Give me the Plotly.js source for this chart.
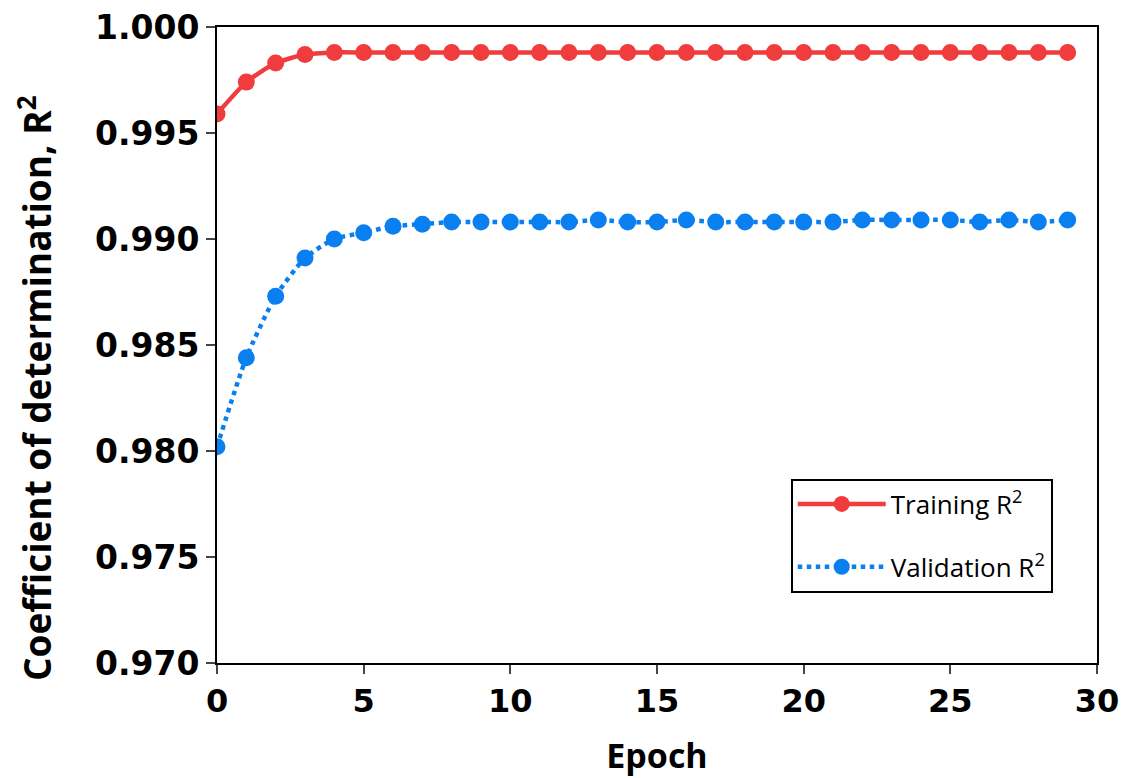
<!DOCTYPE html>
<html>
<head>
<meta charset="utf-8">
<script src="https://cdn.plot.ly/plotly-3.0.1.min.js"></script>
<style>html,body{margin:0;padding:0;background:#fff;}#chart{width:1121px;height:778px;}</style>
</head>
<body>
<div id="chart"></div>
<script>
const epochs = [0,1,2,3,4,5,6,7,8,9,10,11,12,13,14,15,16,17,18,19,20,21,22,23,24,25,26,27,28,29];
const trainingR2 = [0.9959,0.9974,0.9983,0.9987,0.9988,0.9988,0.9988,0.9988,0.9988,0.9988,
                    0.9988,0.9988,0.9988,0.9988,0.9988,0.9988,0.9988,0.9988,0.9988,0.9988,
                    0.9988,0.9988,0.9988,0.9988,0.9988,0.9988,0.9988,0.9988,0.9988,0.9988];
const validationR2 = [0.9802,0.9844,0.9873,0.9891,0.9900,0.9903,0.9906,0.9907,0.9908,0.9908,
                      0.9908,0.9908,0.9908,0.9909,0.9908,0.9908,0.9909,0.9908,0.9908,0.9908,
                      0.9908,0.9908,0.9909,0.9909,0.9909,0.9909,0.9908,0.9909,0.9908,0.9909];
const yTicks = [0.970,0.975,0.980,0.985,0.990,0.995,1.000];
const yTickText = ['0.970','0.975','0.980','0.985','0.990','0.995','1.000'];
const xTicks = [0,5,10,15,20,25,30];
const seriesNames = ['Training R<sup>2</sup>','Validation R<sup>2</sup>'];
const xTitle = 'Epoch';
const yTitle = 'Coefficient of determination, R<sup>2</sup>';

const red = '#F03C3C', blue = '#0A80F0';
const traces = [
  {x: epochs, y: trainingR2, name: seriesNames[0], legendgroup: 'a', type: 'scatter', mode: 'lines+markers',
   line: {color: red, width: 4.5, shape: 'spline', smoothing: 0.6},
   marker: {color: red, size: 17}},
  {x: epochs, y: validationR2, name: seriesNames[1], legendgroup: 'b', type: 'scatter', mode: 'lines+markers',
   line: {color: blue, width: 4.5, dash: 'dot', shape: 'spline', smoothing: 0.6},
   marker: {color: blue, size: 17}}
];

const layout = {
  width: 1121, height: 778,
  margin: {l: 217, r: 24, t: 27, b: 115},
  paper_bgcolor: '#fff', plot_bgcolor: '#fff',
  showlegend: true,
  xaxis: {
    range: [0, 30], tickvals: xTicks, ticks: 'outside', ticklen: 9, tickwidth: 2,
    showline: true, linecolor: '#000', linewidth: 2, mirror: true, showgrid: false, zeroline: false,
    tickfont: {family: 'DejaVu Sans', size: 32, color: '#000', weight: 'bold'},
    title: {text: xTitle, font: {family: 'Open Sans', size: 34, color: '#000', weight: 'bold'}, standoff: 28}
  },
  yaxis: {
    range: [0.970, 1.000], tickvals: yTicks, ticktext: yTickText, ticks: 'outside', ticklen: 9, tickwidth: 2,
    showline: true, linecolor: '#000', linewidth: 2, mirror: true, showgrid: false, zeroline: false,
    tickfont: {family: 'DejaVu Sans', size: 33, color: '#000', weight: 'bold'}
  },
  annotations: [{
    text: yTitle, xref: 'paper', yref: 'paper', x: -0.207, y: 0.432,
    xanchor: 'center', yanchor: 'middle', textangle: -90, showarrow: false,
    font: {family: 'Open Sans', size: 37, color: '#000', weight: 'bold'}
  }],
  legend: {
    x: 0.652, y: 0.29, xanchor: 'left', yanchor: 'top',
    bgcolor: '#fff', bordercolor: '#000', borderwidth: 2,
    font: {family: 'Open Sans', size: 26, color: '#000'},
    itemwidth: 88, tracegroupgap: 26
  }
};
Plotly.newPlot('chart', traces, layout, {displayModeBar: false, staticPlot: true});
</script>
</body>
</html>
